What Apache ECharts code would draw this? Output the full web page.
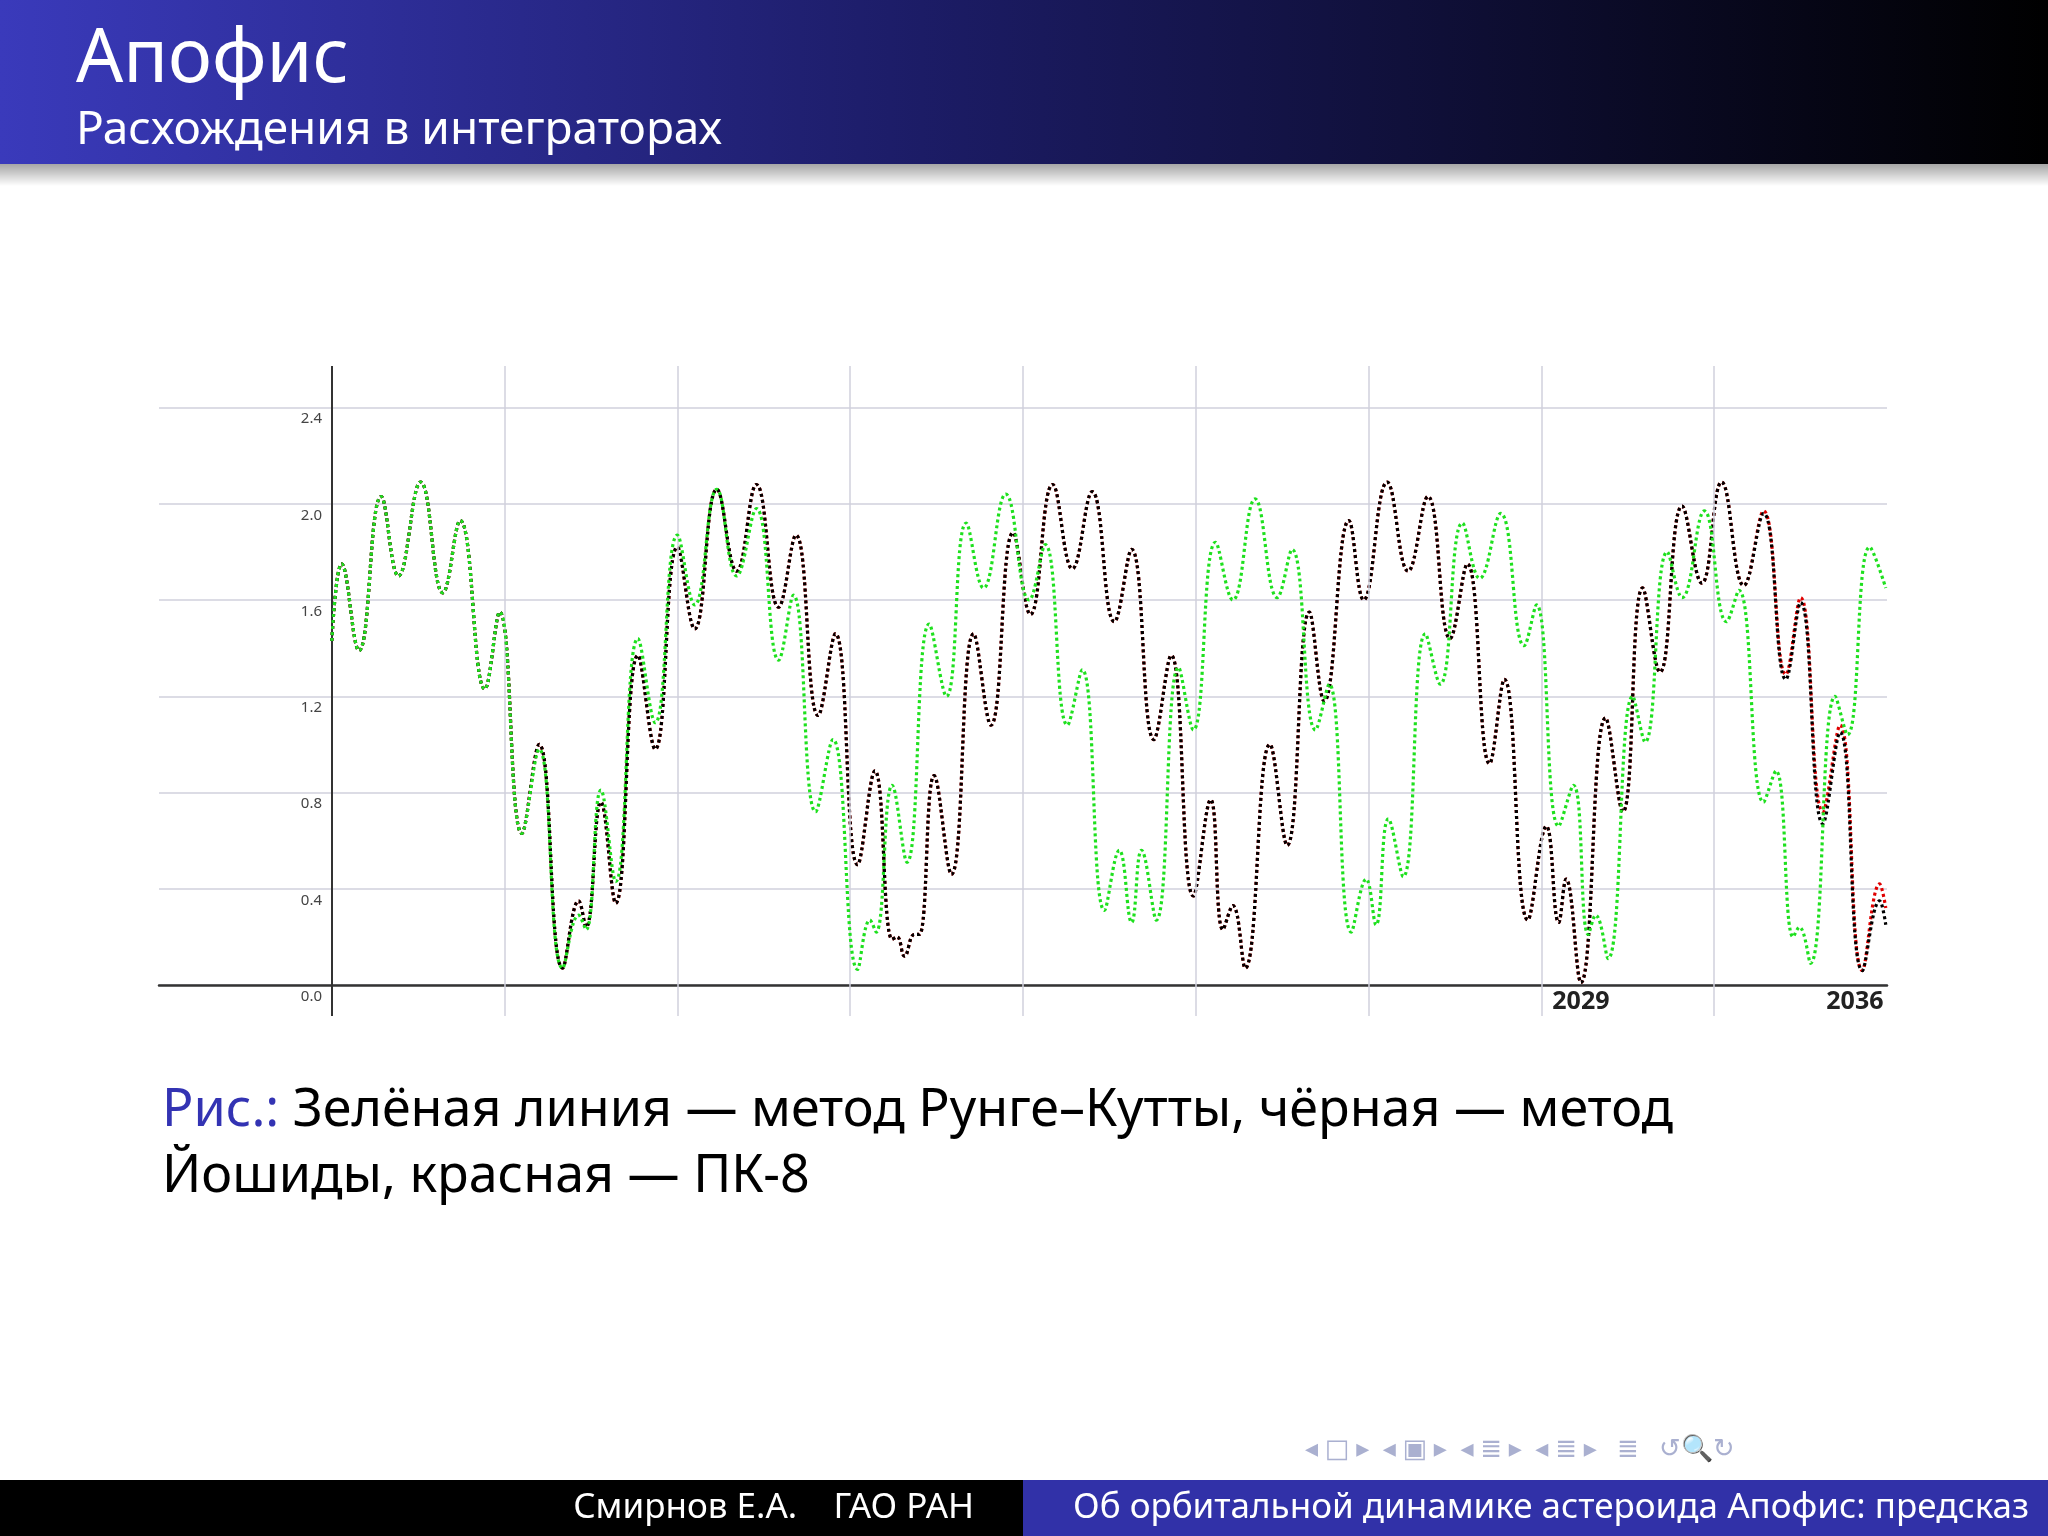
<!DOCTYPE html>
<html><head><meta charset="utf-8">
<script src="https://cdn.jsdelivr.net/npm/echarts@6/dist/echarts.min.js"></script>
<style>html,body{margin:0;padding:0;background:#fff}#c{width:2048px;height:1536px}</style>
</head><body><div id="c"></div>
<script>
// Data: [year, divergence]
const yoshidaPoints = [[1980.0,1.43],[1980.4,1.75],[1981.1,1.39],[1982.0,2.03],[1982.7,1.70],[1983.6,2.09],[1984.5,1.63],[1985.2,1.93],[1986.2,1.23],[1986.8,1.55],[1987.7,0.63],[1988.4,1.00],[1989.35,0.07],[1990.0,0.35],[1990.3,0.24],[1990.9,0.76],[1991.5,0.34],[1992.4,1.37],[1993.1,0.98],[1994.0,1.82],[1994.7,1.48],[1995.6,2.06],[1996.4,1.72],[1997.2,2.08],[1998.1,1.57],[1998.8,1.87],[1999.7,1.12],[2000.4,1.46],[2001.3,0.50],[2002.0,0.89],[2002.7,0.19],[2002.9,0.20],[2003.2,0.12],[2003.6,0.21],[2003.8,0.21],[2004.4,0.87],[2005.1,0.46],[2006.0,1.46],[2006.7,1.08],[2007.6,1.88],[2008.3,1.54],[2009.2,2.08],[2010.0,1.73],[2010.8,2.05],[2011.7,1.51],[2012.4,1.81],[2013.3,1.02],[2014.0,1.37],[2014.9,0.37],[2015.6,0.77],[2016.1,0.23],[2016.5,0.33],[2017.0,0.07],[2018.0,1.00],[2018.7,0.58],[2019.6,1.55],[2020.2,1.18],[2021.2,1.93],[2021.8,1.60],[2022.75,2.09],[2023.6,1.72],[2024.4,2.03],[2025.3,1.44],[2026.0,1.75],[2026.9,0.92],[2027.5,1.27],[2028.45,0.27],[2029.2,0.66],[2029.7,0.26],[2030.0,0.44],[2030.6,0.01],[2031.6,1.11],[2032.3,0.72],[2033.1,1.65],[2033.8,1.30],[2034.7,1.99],[2035.5,1.67],[2036.3,2.09],[2037.2,1.66],[2038.0,1.96],[2038.9,1.27],[2039.5,1.59],[2040.4,0.67],[2041.1,1.05],[2042.0,0.06],[2042.7,0.35],[2042.95,0.25]];
const pk8Tail = [[2038.0,1.97],[2038.9,1.29],[2039.5,1.61],[2040.4,0.72],[2041.1,1.08],[2042.0,0.06],[2042.7,0.42],[2042.95,0.32]];
const rungeKuttaPoints = [[1980.0,1.43],[1980.4,1.75],[1981.1,1.39],[1982.0,2.03],[1982.7,1.70],[1983.6,2.09],[1984.5,1.63],[1985.2,1.93],[1986.2,1.23],[1986.8,1.55],[1987.7,0.63],[1988.4,0.98],[1989.35,0.07],[1990.0,0.29],[1990.3,0.23],[1990.9,0.81],[1991.5,0.43],[1992.4,1.44],[1993.1,1.09],[1994.0,1.87],[1994.7,1.58],[1995.6,2.06],[1996.4,1.70],[1997.2,1.98],[1998.1,1.35],[1998.7,1.62],[1999.6,0.72],[2000.3,1.02],[2001.3,0.065],[2001.8,0.27],[2002.05,0.22],[2002.7,0.83],[2003.3,0.51],[2004.2,1.50],[2004.9,1.20],[2005.7,1.92],[2006.4,1.65],[2007.3,2.04],[2008.25,1.60],[2008.9,1.83],[2009.8,1.08],[2010.4,1.31],[2011.3,0.31],[2011.9,0.56],[2012.4,0.26],[2012.8,0.56],[2013.4,0.27],[2014.3,1.32],[2014.9,1.06],[2015.8,1.84],[2016.5,1.60],[2017.4,2.02],[2018.3,1.61],[2018.9,1.81],[2019.85,1.06],[2020.4,1.25],[2021.3,0.22],[2021.9,0.44],[2022.3,0.25],[2022.8,0.69],[2023.4,0.45],[2024.3,1.46],[2024.9,1.25],[2025.8,1.92],[2026.5,1.69],[2027.35,1.96],[2028.3,1.41],[2028.8,1.58],[2029.7,0.66],[2030.3,0.83],[2030.9,0.21],[2031.2,0.29],[2031.7,0.11],[2032.7,1.20],[2033.2,1.01],[2034.1,1.80],[2034.7,1.61],[2035.6,1.97],[2036.5,1.51],[2037.0,1.64],[2038.0,0.76],[2038.5,0.89],[2039.2,0.20],[2039.45,0.24],[2039.9,0.09],[2040.9,1.20],[2041.4,1.04],[2042.3,1.82],[2042.95,1.65]];
const gridYears = [1987,1994,2001,2008,2015,2022,2029,2036];
const axisYear = 1980;
const yTicks = ['0.0','0.4','0.8','1.2','1.6','2.0','2.4'];
const xLabels = [['2029',2030.6],['2036',2041.7]];

const pk8Points = yoshidaPoints.filter(p => p[0] < 2038).concat(pk8Tail);
const chart = echarts.init(document.getElementById('c'));
const font = '"Noto Sans", "DejaVu Sans", sans-serif';
function lineSeries(name, pts, color, z) {
  return {name, type:'line', data:pts, smooth:0.45, symbol:'none', z,
    lineStyle:{color, width:3.2, type:[3,3]}, xAxisIndex:0, yAxisIndex:0};
}
chart.setOption({
  animation:false,
  grid:[{left:159, right:161, top:407.5, bottom:551},
        {left:159, right:161, top:366, bottom:520}],
  xAxis:[{type:'value', min:1973, max:2043, gridIndex:0, axisLine:{show:true,onZero:false,lineStyle:{color:'#333',width:2.5}},
          axisTick:{show:false}, axisLabel:{show:false}, splitLine:{show:false}},
         {type:'value', min:1973, max:2043, gridIndex:1, show:false}],
  yAxis:[{type:'value', min:0, max:2.4, interval:0.4, gridIndex:0, offset:-171,
          axisLine:{show:false}, axisTick:{show:false},
          axisLabel:{formatter:v=>yTicks[Math.round(v/0.4)], fontSize:15, color:'#444', fontFamily:font, verticalAlign:'top', padding:[4,0,0,0], margin:8},
          splitLine:{lineStyle:{color:'#d0d0dc', width:1.5}}},
         {type:'value', min:0, max:1, gridIndex:1, show:false}],
  series:[
    {type:'line', data:[], xAxisIndex:1, yAxisIndex:1, z:1,
     markLine:{silent:true, symbol:'none', label:{show:false},
       data: gridYears.map(y=>({xAxis:y, lineStyle:{color:'#d0d0dc', width:1.5, type:'solid'}}))
         .concat([{xAxis:axisYear, lineStyle:{color:'#333', width:2, type:'solid'}}])}},
    lineSeries('ПК-8', pk8Points, '#e00000', 3),
    lineSeries('Йошида', yoshidaPoints, '#000000', 4),
    Object.assign(lineSeries('Рунге–Кутта', rungeKuttaPoints, '#1ee01e', 5), {
      markPoint:{silent:true, symbol:'rect', symbolSize:1, itemStyle:{color:'rgba(0,0,0,0)'},
        label:{show:true, color:'#222', fontWeight:'bold', fontSize:25, fontFamily:font, offset:[0,4], verticalAlign:'top', formatter:p=>p.name},
        data: xLabels.map(([t,yr])=>({name:t, coord:[yr,0]}))}})
  ],
  graphic:[
    {type:'rect', shape:{x:0,y:0,width:2048,height:164}, z:10,
     style:{fill:new echarts.graphic.LinearGradient(0,0,1,0,[{offset:0,color:'#3a3abb'},{offset:0.45,color:'#1c1c66'},{offset:1,color:'#000'}])}},
    {type:'rect', shape:{x:0,y:164,width:2048,height:22}, z:9,
     style:{fill:new echarts.graphic.LinearGradient(0,0,0,1,[{offset:0,color:'rgba(0,0,0,0.35)'},{offset:1,color:'rgba(0,0,0,0)'}])}},
    {type:'text', x:76, y:24, z:11, style:{text:'Апофис', fill:'#fff', font:'74px '+font}},
    {type:'text', x:76, y:108, z:11, style:{text:'Расхождения в интеграторах', fill:'#fff', font:'46px '+font}},
    {type:'text', x:162, y:1078, z:11, style:{rich:{b:{fill:'#3333b3',font:'52px '+font},k:{fill:'#000',font:'52px '+font}},
       text:'{b|Рис.:\u00a0}{k|Зелёная линия — метод Рунге–Кутты, чёрная — метод}\n{k|Йошиды, красная — ПК-8}', lineHeight:66}},
    {type:'rect', shape:{x:0,y:1480,width:1023,height:56}, z:10, style:{fill:'#000'}},
    {type:'rect', shape:{x:1023,y:1480,width:1025,height:56}, z:10, style:{fill:'#3131a8'}},
    {type:'text', x:974, y:1508, z:11, style:{text:'Смирнов Е.А.    ГАО РАН', fill:'#fff', font:'35px '+font, align:'right', verticalAlign:'middle'}},
    {type:'text', x:1073, y:1508, z:11, style:{text:'Об орбитальной динамике астероида Апофис: предсказ', fill:'#fff', font:'35px '+font, verticalAlign:'middle'}},
    {type:'text', x:1305, y:1450, z:11, style:{text:'◂ □ ▸  ◂ ▣ ▸  ◂ ≣ ▸  ◂ ≣ ▸   ≣   ↺🔍↻', fill:'#aab0d0', font:'26px '+font, verticalAlign:'middle'}}
  ]
});
</script></body></html>
